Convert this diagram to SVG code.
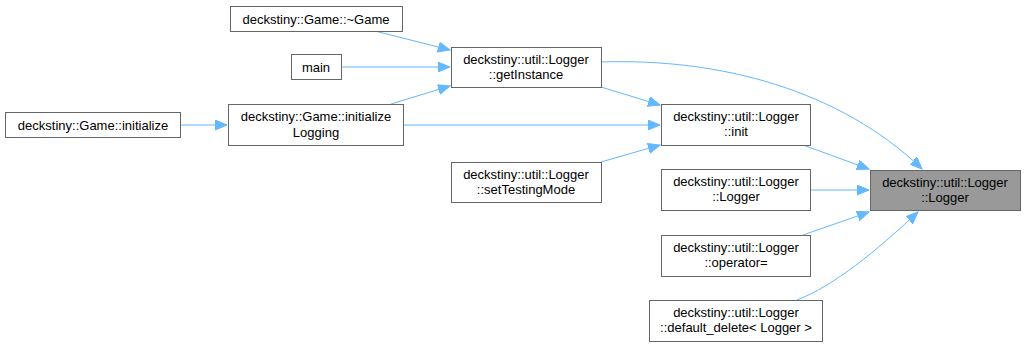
<svg xmlns="http://www.w3.org/2000/svg" width="1025" height="347" viewBox="0 0 1025 347">
  <style>
    .node rect { fill: #ffffff; stroke: #666666; stroke-width: 1; }
    .node.current rect { fill: #999999; }
    .node text { font-family: "Liberation Sans", Arial, Helvetica, sans-serif; font-size: 13px; fill: #000000; text-anchor: middle; }
    .edge { fill: none; stroke: #63b8ff; stroke-width: 1; }
  </style>
  <defs>
    <marker id="arrow" markerUnits="userSpaceOnUse" markerWidth="14" markerHeight="11" refX="12" refY="5" orient="auto">
      <path d="M0,0 L12,5 L0,10 Z" fill="#63b8ff" stroke="#63b8ff" stroke-width="1"/>
    </marker>
  </defs>
  <rect width="1025" height="347" fill="#ffffff"/>

  <!-- call edges -->
  <g id="edges">
    <path class="edge" d="M375,31 L450,50" marker-end="url(#arrow)"/>
    <path class="edge" d="M341,67 L450,67" marker-end="url(#arrow)"/>
    <path class="edge" d="M391,104 L450,86" marker-end="url(#arrow)"/>
    <path class="edge" d="M180,125 L227,125" marker-end="url(#arrow)"/>
    <path class="edge" d="M404,125 L660,125" marker-end="url(#arrow)"/>
    <path class="edge" d="M601,87 L660,105" marker-end="url(#arrow)"/>
    <path class="edge" d="M601,162 L660,145" marker-end="url(#arrow)"/>
    <path class="edge" d="M601,62 C720,58 840,90 922,169" marker-end="url(#arrow)"/>
    <path class="edge" d="M803,145 L869,169" marker-end="url(#arrow)"/>
    <path class="edge" d="M811,190 L869,190" marker-end="url(#arrow)"/>
    <path class="edge" d="M803,235 L869,212" marker-end="url(#arrow)"/>
    <path class="edge" d="M797,300 C835,285 875,252 918,212" marker-end="url(#arrow)"/>
  </g>

  <g id="node-game-initialize" class="node">
    <rect x="5.5" y="112.5" width="175" height="25"/>
    <text x="93" y="129.5">deckstiny::Game::initialize</text>
  </g>
  <g id="node-game-initializeLogging" class="node">
    <rect x="228.5" y="104.5" width="175" height="41"/>
    <text x="316" y="121">deckstiny::Game::initialize</text>
    <text x="316" y="137">Logging</text>
  </g>
  <g id="node-game-destructor" class="node">
    <rect x="230.5" y="6.5" width="172" height="25"/>
    <text x="316" y="23.5">deckstiny::Game::~Game</text>
  </g>
  <g id="node-main" class="node">
    <rect x="291.5" y="54.5" width="50" height="25"/>
    <text x="316" y="71.5">main</text>
  </g>
  <g id="node-logger-getInstance" class="node">
    <rect x="451.5" y="47.5" width="150" height="40"/>
    <text x="526" y="64">deckstiny::util::Logger</text>
    <text x="526" y="79">::getInstance</text>
  </g>
  <g id="node-logger-setTestingMode" class="node">
    <rect x="451.5" y="162.5" width="150" height="40"/>
    <text x="526" y="179">deckstiny::util::Logger</text>
    <text x="526" y="194">::setTestingMode</text>
  </g>
  <g id="node-logger-init" class="node">
    <rect x="661.5" y="104.5" width="149" height="41"/>
    <text x="736" y="121">deckstiny::util::Logger</text>
    <text x="736" y="136">::init</text>
  </g>
  <g id="node-logger-copy-ctor" class="node">
    <rect x="661.5" y="169.5" width="149" height="41"/>
    <text x="736" y="186">deckstiny::util::Logger</text>
    <text x="736" y="201">::Logger</text>
  </g>
  <g id="node-logger-operator-assign" class="node">
    <rect x="661.5" y="235.5" width="149" height="41"/>
    <text x="736" y="252">deckstiny::util::Logger</text>
    <text x="736" y="267">::operator=</text>
  </g>
  <g id="node-logger-default-delete" class="node">
    <rect x="649.5" y="300.5" width="173" height="41"/>
    <text x="736" y="317">deckstiny::util::Logger</text>
    <text x="736" y="332">::default_delete&lt; Logger &gt;</text>
  </g>
  <g id="node-logger-ctor" class="node current">
    <rect x="870.5" y="170.5" width="150" height="40"/>
    <text x="945" y="187">deckstiny::util::Logger</text>
    <text x="945" y="202">::Logger</text>
  </g>
</svg>
